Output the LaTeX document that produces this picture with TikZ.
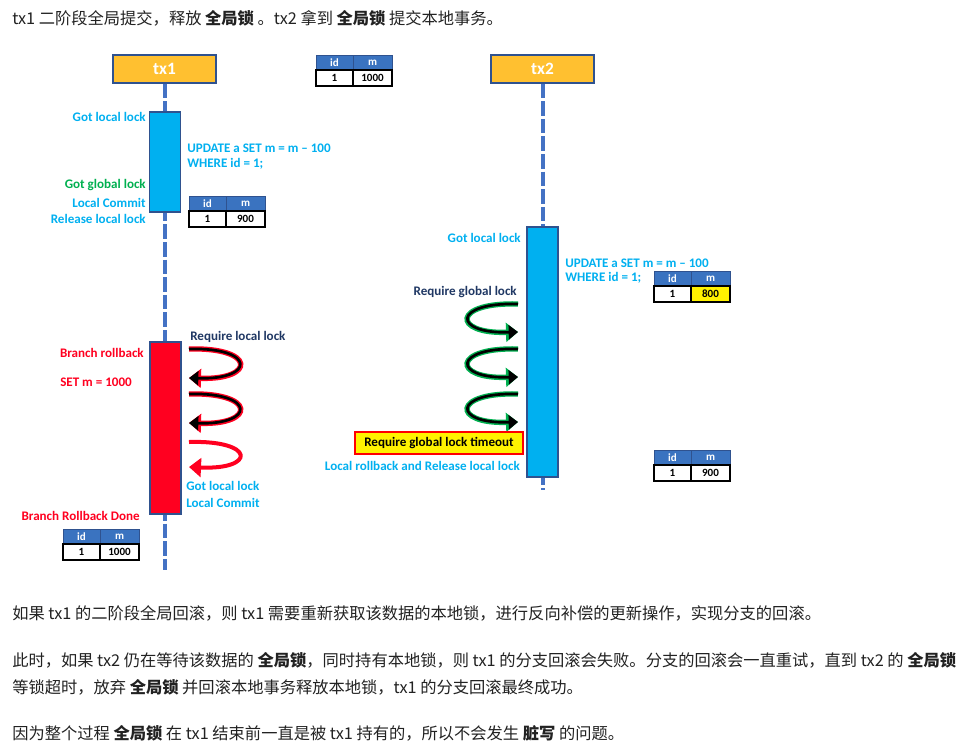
\documentclass[tikz,border=0pt]{standalone}
\usepackage{fontspec}
\setmainfont{Carlito}
\newfontfamily\cjk{Noto Sans CJK SC}
\usetikzlibrary{arrows.meta}

\definecolor{txorange}{RGB}{255,192,48}
\definecolor{boxblue}{RGB}{47,82,143}
\definecolor{lineblue}{RGB}{68,114,196}
\definecolor{hdblue}{RGB}{58,115,192}
\definecolor{barcyan}{RGB}{0,176,240}
\definecolor{okgreen}{RGB}{0,176,80}
\definecolor{navy}{RGB}{32,56,100}
\definecolor{rbred}{RGB}{255,0,32}
\definecolor{txtgray}{RGB}{34,34,34}

\tikzset{
  txbox/.style={draw=boxblue, line width=0.9pt, fill=txorange, text=white,
    minimum width=77.25pt, minimum height=21pt, inner sep=0,
    font=\fontsize{13}{15}\selectfont\bfseries},
  lifeline/.style={lineblue, line width=3pt, dash pattern=on 11pt off 2.2pt},
  bar/.style={draw=boxblue, line width=0.8pt, minimum width=23pt, inner sep=0},
  lbl/.style={inner sep=0, font=\fontsize{9.8}{11}\selectfont\bfseries},
  tbtext/.style={inner sep=0, font=\fontsize{8.3}{9}\selectfont\bfseries},
  para/.style={inner sep=0, anchor=west, text=txtgray, font=\cjk\fontsize{12.2}{14}\selectfont},
  glowred/.style={rbred, line width=4pt, -{Triangle[length=9pt,width=14pt]}},
  glowgreen/.style={okgreen, line width=4pt, -{Triangle[length=9pt,width=14pt]}},
  blackloop/.style={black, line width=2pt, -{Triangle[length=7pt,width=10.5pt]}},
  redloop/.style={rbred, line width=3pt, -{Triangle[length=9pt,width=14pt]}},
}

% #1 name, #2 x, #3 y (top left), #4 value of m, #5 fill of the m cell
\newcommand\datatbl[5]{%
  \draw[boxblue, fill=hdblue] (#2,#3) rectangle ++(37,15);
  \draw[boxblue, fill=hdblue] (#2+37,#3) rectangle ++(39,15);
  \draw[black, line width=0.8pt, fill=white] (#2,#3+15) rectangle ++(37,16);
  \draw[black, line width=0.8pt, fill=#5] (#2+37,#3+15) rectangle ++(39,16);
  \node[tbtext, text=white] (#1-hid) at (#2+18.5,#3+7.5) {id};
  \node[tbtext, text=white] (#1-hm) at (#2+56.5,#3+7.5) {m};
  \node[tbtext] (#1-id) at (#2+18.5,#3+23) {1};
  \node[tbtext] (#1-m) at (#2+56.5,#3+23) {#4};
}

\begin{document}
\begin{tikzpicture}[x=0.75pt,y=-0.75pt]
  \fill[white] (0,0) rectangle (966,749);
  \useasboundingbox (0,0) rectangle (966,749);

  \node[para] (head) at (12,18) {tx1 二阶段全局提交，释放 {\bfseries 全局锁} 。tx2 拿到 {\bfseries 全局锁} 提交本地事务。};

  % transactions and lifelines
  \node[txbox] (tx1) at (164.5,69) {tx1};
  \node[txbox] (tx2) at (542.5,69) {tx2};
  \coordinate (tx1end) at (164.5,570);
  \coordinate (tx2end) at (542.5,490);
  \draw[lifeline] (tx1.south) -- (tx1end);
  \draw[lifeline] (tx2.south) -- (tx2end);
  \datatbl{t0}{316}{55}{1000}{white}

  % tx1 phase two commit
  \node[bar, fill=barcyan, minimum height=75pt] (bar1) at (165,162) {};
  \node[lbl, text=barcyan, anchor=east] (gl1) at (146,117) {Got local lock};
  \node[lbl, text=okgreen, anchor=east] (gg1) at (146,185) {Got global lock};
  \node[lbl, text=barcyan, anchor=east] (lc1) at (146,203) {Local Commit};
  \node[lbl, text=barcyan, anchor=east] (rl1) at (146,219) {Release local lock};
  \node[lbl, text=barcyan, anchor=west] (up1) at (187,148) {UPDATE a SET m = m -- 100};
  \node[lbl, text=barcyan, anchor=west] (wh1) at (187,164) {WHERE id = 1;};
  \datatbl{t1}{189}{196}{900}{white}

  % tx2 local transaction
  \node[bar, fill=barcyan, minimum width=23.25pt, minimum height=187.5pt] (bar2) at (542.5,352) {};
  \node[lbl, text=barcyan, anchor=east] (gl2) at (521,238) {Got local lock};
  \node[lbl, text=barcyan, anchor=west] (up2) at (565,263) {UPDATE a SET m = m -- 100};
  \node[lbl, text=barcyan, anchor=west] (wh2) at (565,278) {WHERE id = 1;};
  \datatbl{t2}{654}{271}{800}{yellow}
  \node[lbl, text=navy, anchor=east] (rg2) at (517,292) {Require global lock};
  \foreach \y in {304,349,394} {
    \draw[glowgreen] (518,\y) .. controls (452,\y-2) and (452,\y+30) .. (518,\y+28);
    \draw[blackloop] (518,\y) .. controls (452,\y-2) and (452,\y+30) .. (518,\y+28);
  }
  \node[draw=red, line width=0.9pt, fill=yellow, minimum width=126pt, minimum height=16.5pt,
    inner sep=0, font=\fontsize{9.8}{11}\selectfont\bfseries] (tmo) at (439,443) {Require global lock timeout};
  \node[lbl, text=barcyan, anchor=east] (lr2) at (520,466) {Local rollback and Release local lock};
  \datatbl{t3}{654}{450}{900}{white}

  % tx1 branch rollback
  \node[bar, fill=rbred, minimum width=23.25pt, minimum height=129pt] (bar3) at (165.5,428) {};
  \node[lbl, text=navy, anchor=west] (rq3) at (190,337) {Require local lock};
  \node[lbl, text=rbred, anchor=east] (br3) at (144,353) {Branch rollback};
  \node[lbl, text=rbred, anchor=west] (sm3) at (60,382) {SET m = 1000};
  \foreach \y in {349,394} {
    \draw[glowred] (189,\y) .. controls (256,\y-2) and (256,\y+31) .. (189,\y+29);
    \draw[blackloop] (189,\y) .. controls (256,\y-2) and (256,\y+31) .. (189,\y+29);
  }
  \draw[redloop] (189,442) .. controls (256,440) and (256,470) .. (189,467);
  \node[lbl, text=barcyan, anchor=west] (gl3) at (186,486) {Got local lock};
  \node[lbl, text=barcyan, anchor=west] (lc3) at (186,503) {Local Commit};
  \node[lbl, text=rbred, anchor=east] (bd3) at (140,516) {Branch Rollback Done};
  \datatbl{t4}{63}{529}{1000}{white}

  % notes
  \node[para] (p1) at (12,613) {如果 tx1 的二阶段全局回滚，则 tx1 需要重新获取该数据的本地锁，进行反向补偿的更新操作，实现分支的回滚。};
  \node[para] (p2) at (12,660) {此时，如果 tx2 仍在等待该数据的 {\bfseries 全局锁}，同时持有本地锁，则 tx1 的分支回滚会失败。分支的回滚会一直重试，直到 tx2 的 {\bfseries 全局锁}};
  \node[para] (p3) at (12,687) {等锁超时，放弃 {\bfseries 全局锁} 并回滚本地事务释放本地锁，tx1 的分支回滚最终成功。};
  \node[para] (p4) at (12,733) {因为整个过程 {\bfseries 全局锁} 在 tx1 结束前一直是被 tx1 持有的，所以不会发生 {\bfseries 脏写} 的问题。};
\end{tikzpicture}
\end{document}
